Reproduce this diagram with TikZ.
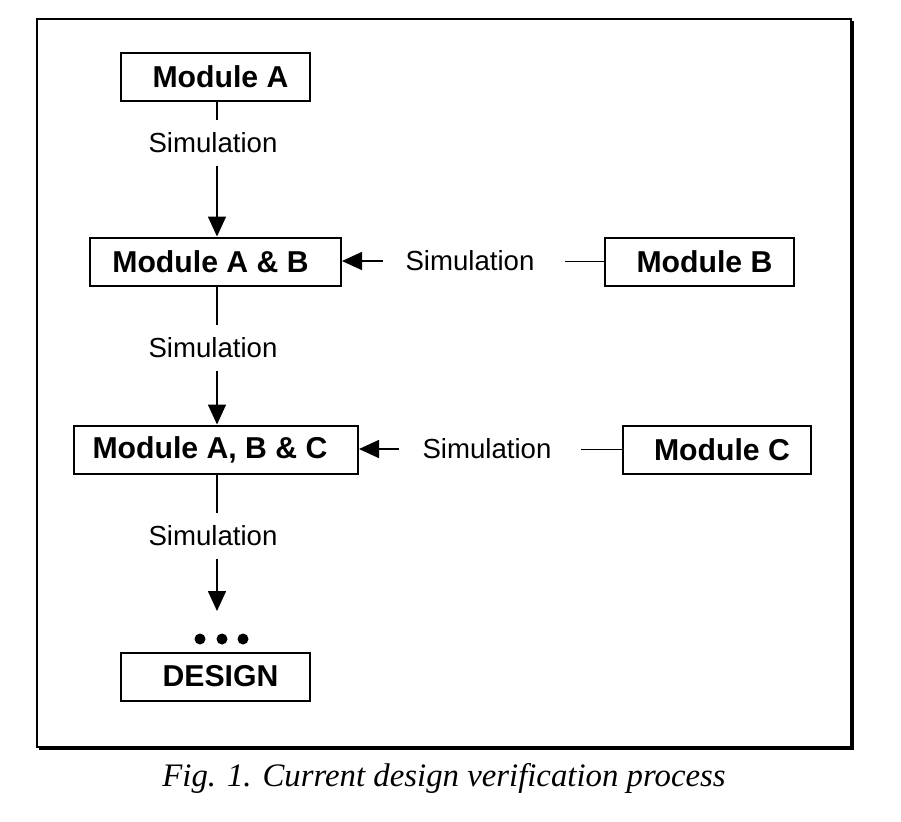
\documentclass[tikz,border=0pt]{standalone}
\usepackage{fontspec}
\setmainfont{Liberation Sans}
\newfontfamily\figcapfont{Liberation Serif}
\usepackage{tikz}
\usetikzlibrary{arrows.meta}
\tikzstyle{module}=[draw, line width=1pt, inner sep=0, minimum height=24pt, font=\bfseries\fontsize{15.1}{18}\selectfont]
\tikzstyle{sim}=[inner sep=0, minimum width=91pt, minimum height=23pt, font=\fontsize{13.8}{16}\selectfont]
\tikzstyle{flow}=[line width=0.8pt, -{Triangle[length=10pt, width=9pt]}]
\tikzstyle{link}=[line width=0.8pt]
\tikzstyle{verifyflow}=[x=0.5pt, y=-0.5pt,
                        % Frame of the figure, with a shadow to the right and below.
                        execute at begin picture={\useasboundingbox (0, 0) rectangle (901, 821);}]

\begin{document}
\begin{tikzpicture}[verifyflow]
        \draw[line width=1pt] (37, 19) rectangle (851, 747);
        \draw[line width=1.2pt] (852.5, 21) -- (852.5, 748.5) -- (39, 748.5);
        \node[module, minimum width=94.5pt] (MA)   at (215.5, 76.5)  {\hspace{5pt}Module A};
        \node[module, minimum width=125.5pt] (MAB) at (215.5, 261.5) {Module A \& B\kern5pt};
        \node[module, minimum width=94.5pt] (MB)   at (699.5, 261.5) {\hspace{5pt}Module B};
        \node[module, minimum width=142pt] (MABC)  at (216, 449.5)   {Module A, B \& C\kern6pt};
        \node[module, minimum width=94pt] (MC)     at (717, 449.5)   {\hspace{5pt}Module C};
        \node[module, minimum width=94.5pt] (D)    at (215.5, 676.5) {\hspace{5pt}DESIGN};
        \node[sim] (S1) at (217, 143) {Simulation\kern4pt};
        \node[sim] (S2) at (217, 348) {Simulation\kern4pt};
        \node[sim] (S3) at (217, 536) {Simulation\kern4pt};
        \node[sim] (S4) at (474, 261) {Simulation\kern4pt};
        \node[sim] (S5) at (490, 449) {Simulation\kern3pt};
        \coordinate (E) at (217, 611);
        \fill (200, 639) circle (5.5);
        \fill (222, 639) circle (5.5);
        \fill (243, 639) circle (5.5);
        \draw[link] (S1.north |- MA.south) -- (S1.north);
        \draw[flow] (S1.south) -- (S1.south |- MAB.north);
        \draw[link] (S2.north |- MAB.south) -- (S2.north);
        \draw[flow] (S2.south) -- (S2.south |- MABC.north);
        \draw[link] (S3.north |- MABC.south) -- (S3.north);
        \draw[flow] (S3.south) -- (E);
        \draw[link] (MB.west) -- (MB.west -| S4.east);
        \draw[flow] (S4.west) -- (S4.west -| MAB.east);
        \draw[link] (MC.west) -- (MC.west -| S5.east);
        \draw[flow] (S5.west) -- (S5.west -| MABC.east);
        \node[font=\figcapfont\itshape\fontsize{16.4}{20}\selectfont] (CAP) at (444, 778) {Fig. 1. Current design verification process};
    \end{tikzpicture}
\end{document}
